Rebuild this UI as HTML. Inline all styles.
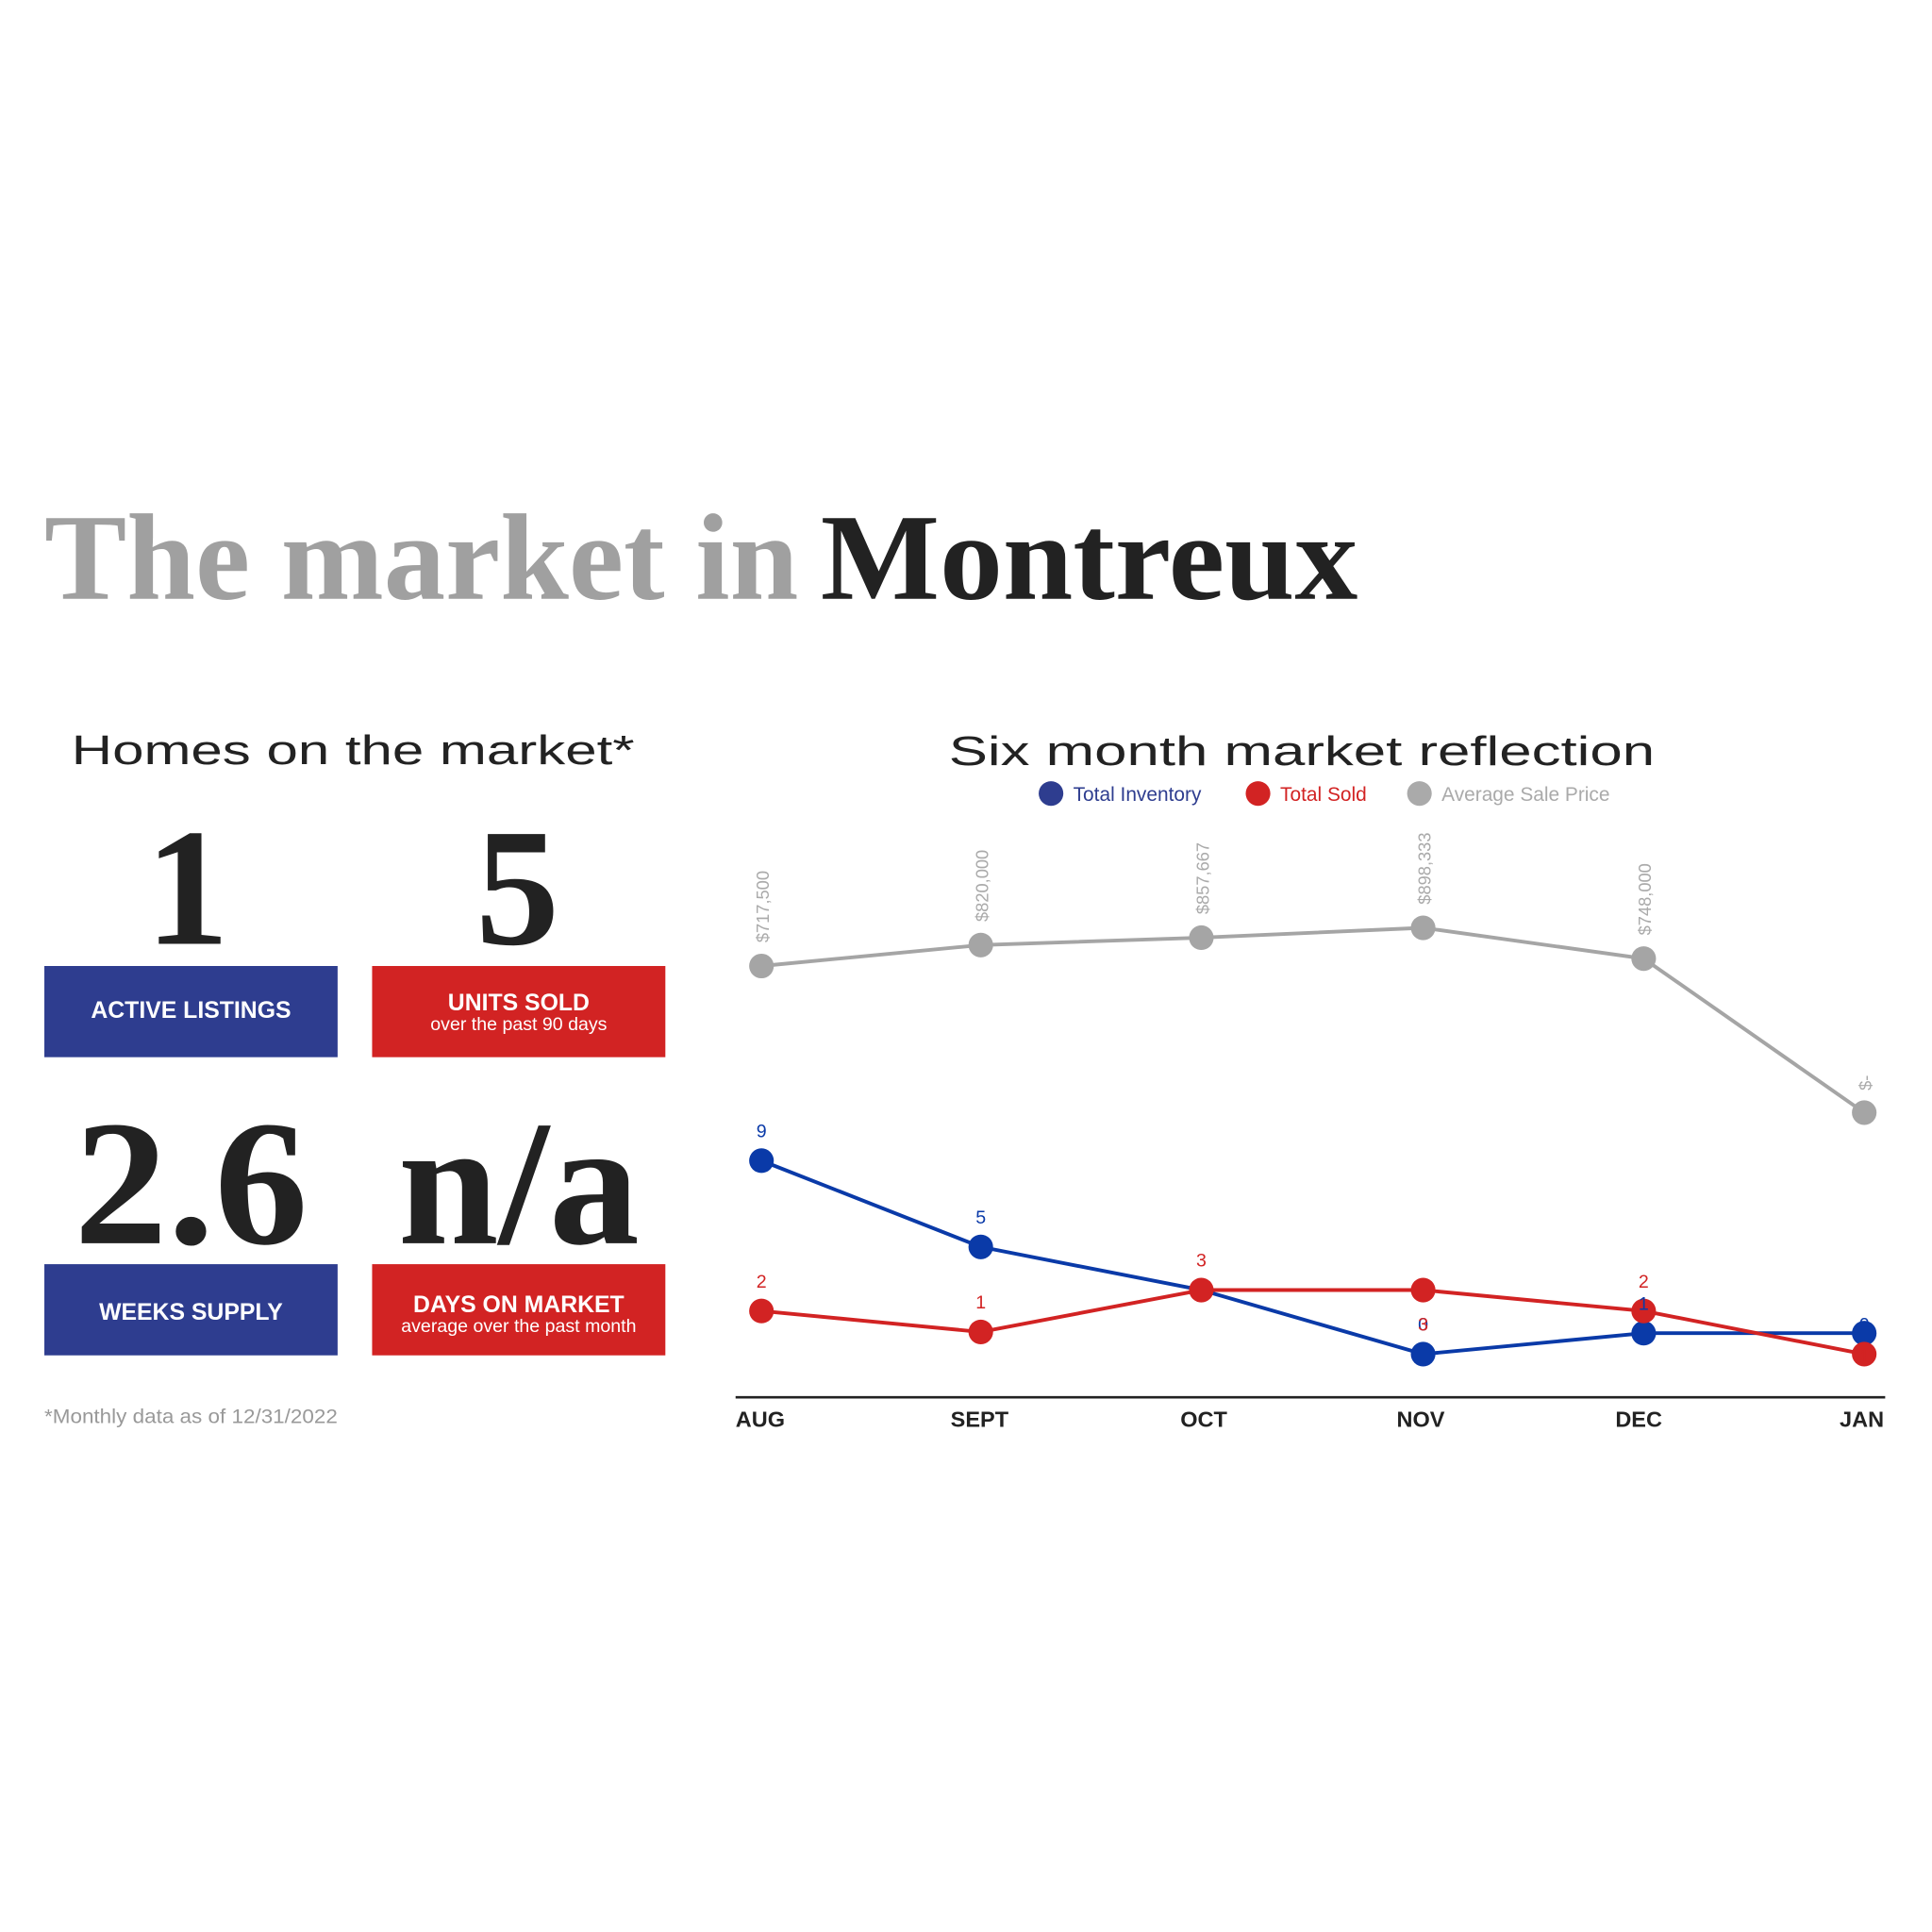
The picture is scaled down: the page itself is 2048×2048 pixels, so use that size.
<!DOCTYPE html>
<html><head><meta charset="utf-8"><style>html,body{margin:0;padding:0;background:#fff}svg{display:block}</style></head>
<body>
<svg width="2048" height="2048" viewBox="0 0 1568 1568" xmlns="http://www.w3.org/2000/svg">
<rect width="1568" height="1568" fill="#fff"/>
<g font-family="Liberation Serif, serif" font-weight="bold" font-size="100">
<text x="36" y="486" fill="#a0a0a0" textLength="612" lengthAdjust="spacingAndGlyphs">The market in</text>
<text x="666" y="486" fill="#222" textLength="436" lengthAdjust="spacingAndGlyphs">Montreux</text>
</g>
<text x="58" y="620" font-family="Liberation Sans, sans-serif" font-size="33" fill="#222" textLength="457" lengthAdjust="spacingAndGlyphs">Homes on the market*</text>
<g font-family="Liberation Serif, serif" font-weight="bold" fill="#222" text-anchor="middle">
<text x="152" y="766" font-size="136">1</text>
<text x="420" y="766" font-size="136">5</text>
<text x="155" y="1009" font-size="145" textLength="190" lengthAdjust="spacingAndGlyphs">2.6</text>
<text x="421" y="1009" font-size="145" textLength="196" lengthAdjust="spacingAndGlyphs">n/a</text>
</g>
<rect x="36" y="784" width="238" height="74" fill="#2e3d8f"/>
<rect x="302" y="784" width="238" height="74" fill="#d22323"/>
<rect x="36" y="1026" width="238" height="74" fill="#2e3d8f"/>
<rect x="302" y="1026" width="238" height="74" fill="#d22323"/>
<g font-family="Liberation Sans, sans-serif" fill="#fff" text-anchor="middle">
<text x="155" y="826" font-size="19" font-weight="bold">ACTIVE LISTINGS</text>
<text x="421" y="820" font-size="19" font-weight="bold">UNITS SOLD</text>
<text x="421" y="836" font-size="15">over the past 90 days</text>
<text x="155" y="1071" font-size="19" font-weight="bold">WEEKS SUPPLY</text>
<text x="421" y="1065" font-size="19" font-weight="bold">DAYS ON MARKET</text>
<text x="421" y="1081" font-size="15">average over the past month</text>
</g>
<text x="36" y="1155" font-family="Liberation Sans, sans-serif" font-size="16" fill="#999" textLength="238" lengthAdjust="spacingAndGlyphs">*Monthly data as of 12/31/2022</text>
<text x="770" y="621" font-family="Liberation Sans, sans-serif" font-size="33" fill="#222" textLength="573" lengthAdjust="spacingAndGlyphs">Six month market reflection</text>
<g font-family="Liberation Sans, sans-serif" font-size="16">
<circle cx="853" cy="644" r="10" fill="#2e3d8f"/><text x="871" y="650" fill="#2e3d8f">Total Inventory</text>
<circle cx="1021" cy="644" r="10" fill="#d22323"/><text x="1039" y="650" fill="#d22323">Total Sold</text>
<circle cx="1152" cy="644" r="10" fill="#aaa"/><text x="1170" y="650" fill="#aaa">Average Sale Price</text>
</g>
<g stroke-width="3" fill="none">
<polyline stroke="#a5a5a5" points="618,784 796,767 975,761 1155,753 1334,778 1513,903"/>
<polyline stroke="#0a3aa8" points="618,942 796,1012 975,1047 1155,1099 1334,1082 1513,1082"/>
<polyline stroke="#d22323" points="618,1064 796,1081 975,1047 1155,1047 1334,1064 1513,1099"/>
</g>
<g fill="#a5a5a5"><circle cx="618" cy="784" r="10"/><circle cx="796" cy="767" r="10"/><circle cx="975" cy="761" r="10"/><circle cx="1155" cy="753" r="10"/><circle cx="1334" cy="778" r="10"/><circle cx="1513" cy="903" r="10"/></g>
<g fill="#0a3aa8"><circle cx="618" cy="942" r="10"/><circle cx="796" cy="1012" r="10"/><circle cx="1155" cy="1099" r="10"/><circle cx="1334" cy="1082" r="10"/><circle cx="1513" cy="1082" r="10"/></g>
<g fill="#d22323"><circle cx="618" cy="1064" r="10"/><circle cx="796" cy="1081" r="10"/><circle cx="975" cy="1047" r="10"/><circle cx="1155" cy="1047" r="10"/><circle cx="1334" cy="1064" r="10"/><circle cx="1513" cy="1099" r="10"/></g>
<g font-family="Liberation Sans, sans-serif" font-size="14" fill="#aaa">
<text transform="translate(624,765) rotate(-90)">$717,500</text>
<text transform="translate(802,748) rotate(-90)">$820,000</text>
<text transform="translate(981,742) rotate(-90)">$857,667</text>
<text transform="translate(1161,734) rotate(-90)">$898,333</text>
<text transform="translate(1340,759) rotate(-90)">$748,000</text>
<text transform="translate(1519,885) rotate(-90)">$-</text>
</g>
<g font-family="Liberation Sans, sans-serif" font-size="15" text-anchor="middle" fill="#0a3aa8">
<text x="618" y="923">9</text><text x="796" y="993">5</text><text x="1155" y="1080">0</text><text x="1334" y="1063">1</text><text x="1513" y="1080">0</text>
</g>
<g font-family="Liberation Sans, sans-serif" font-size="15" text-anchor="middle" fill="#d22323">
<text x="618" y="1045">2</text><text x="796" y="1062">1</text><text x="975" y="1028">3</text><text x="1155" y="1080">3</text><text x="1334" y="1045">2</text><text x="1513" y="1106">1</text>
</g>
<line x1="597" y1="1134" x2="1530" y2="1134" stroke="#222" stroke-width="2"/>
<g font-family="Liberation Sans, sans-serif" font-size="18" font-weight="bold" fill="#222" text-anchor="middle">
<text x="617" y="1158">AUG</text><text x="795" y="1158">SEPT</text><text x="977" y="1158">OCT</text><text x="1153" y="1158">NOV</text><text x="1330" y="1158">DEC</text><text x="1511" y="1158">JAN</text>
</g>
</svg>
</body></html>
